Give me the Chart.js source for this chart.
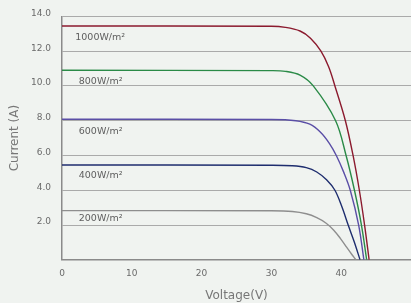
<!DOCTYPE html>
<html>
<head>
<meta charset="utf-8">
<script src="https://cdn.jsdelivr.net/npm/chart.js@4"></script>
<style>
  body { margin: 0; background: #f0f3f0; overflow: hidden; }
  #wrap { width: 411px; height: 303px; }
</style>
</head>
<body>
<div id="wrap"><canvas id="iv-chart"></canvas></div>
<script>
// I-V curves (V, A)
var v1000 = [0, 30, 32, 34.1, 35.6, 37.1, 38.2, 39.1, 40.6, 41.7, 42.6, 43.35, 44.0];
var i1000 = [13.45, 13.43, 13.37, 13.16, 12.75, 12.0, 11.1, 10.0, 8.0, 6.0, 4.0, 2.0, 0];
var v800 = [0, 30, 32, 34.1, 36.0, 39.2, 40.7, 41.9, 42.9, 43.65];
var i800 = [10.9, 10.88, 10.84, 10.62, 10.0, 8.0, 6.0, 4.0, 2.0, 0];
var v600 = [0, 30, 33.5, 35.5, 37.0, 38.3, 39.3, 40.4, 41.3, 42.5, 43.25];
var i600 = [8.08, 8.07, 8.0, 7.8, 7.35, 6.7, 6.0, 5.0, 4.0, 2.0, 0];
var v400 = [0, 30, 33, 35, 36.5, 37.9, 39.1, 40.1, 41.0, 41.9, 42.7];
var i400 = [5.45, 5.44, 5.41, 5.3, 5.05, 4.6, 4.0, 3.05, 2.0, 1.0, 0];
var v200 = [0, 30, 33, 35, 36.5, 37.8, 38.9, 39.9, 40.8, 41.5, 42.1];
var i200 = [2.83, 2.82, 2.78, 2.65, 2.43, 2.12, 1.72, 1.22, 0.71, 0.32, 0];

var seriesNames = ["1000W/m²", "800W/m²", "600W/m²", "400W/m²", "200W/m²"];
var seriesColors = ["#8b1a2e", "#2a8a47", "#5a4ea6", "#1e2d6e", "#8e8e8e"];
// where each irradiance label sits (V, A)
var labelX = [1.9, 2.4, 2.4, 2.4, 2.4];
var labelY = [12.8, 10.25, 7.4, 4.85, 2.35];

var yTicks = [0, 2, 4, 6, 8, 10, 12, 14];

function pts(vs, is) {
  return vs.map(function (v, k) { return { x: v, y: is[k] }; });
}
var curves = [pts(v1000, i1000), pts(v800, i800), pts(v600, i600), pts(v400, i400), pts(v200, i200)];

var curveLabels = {
  id: "curveLabels",
  afterDatasetsDraw: function (chart) {
    var ctx = chart.ctx;
    var xs = chart.scales.x, ys = chart.scales.y;
    ctx.save();
    ctx.font = "9.5px 'DejaVu Sans'";
    ctx.fillStyle = "#5e5e5e";
    ctx.textBaseline = "middle";
    ctx.textAlign = "left";
    seriesNames.forEach(function (name, k) {
      ctx.fillText(name, xs.getPixelForValue(labelX[k]), ys.getPixelForValue(labelY[k]));
    });
    ctx.restore();
  }
};

new Chart("iv-chart", {
  type: "line",
  data: {
    datasets: curves.map(function (d, k) {
      return {
        label: seriesNames[k],
        data: d,
        borderColor: seriesColors[k],
        borderWidth: 1.4,
        pointRadius: 0,
        tension: 0.35,
        fill: false
      };
    })
  },
  options: {
    responsive: true,
    maintainAspectRatio: false,
    animation: false,
    layout: { autoPadding: false, padding: { top: 8, right: 0, left: 8, bottom: 0 } },
    plugins: {
      legend: { display: false },
      tooltip: { enabled: false }
    },
    scales: {
      x: {
        type: "linear",
        min: 0,
        max: 50,
        grid: { display: false, drawTicks: false },
        border: { display: true, color: "#8a8a8a", width: 1.5 },
        ticks: {
          stepSize: 10,
          padding: 8,
          color: "#6a6a6a",
          font: { family: "'DejaVu Sans'", size: 9 },
          callback: function (v) { return v === 50 ? "" : v; }
        },
        title: {
          display: true,
          text: "Voltage(V)",
          color: "#777",
          font: { family: "'DejaVu Sans'", size: 12 },
          padding: { top: 2, bottom: 0 }
        },
        afterFit: function (s) { s.paddingLeft = 0; s.paddingRight = 0; }
      },
      y: {
        min: 0,
        max: 14,
        afterBuildTicks: function (axis) {
          axis.ticks = yTicks.map(function (v) { return { value: v }; });
        },
        grid: { color: "#aaaaaa", lineWidth: 1, drawTicks: false },
        border: { display: true, color: "#8a8a8a", width: 1.5 },
        ticks: {
          padding: 11,
          labelOffset: -3,
          color: "#6a6a6a",
          font: { family: "'DejaVu Sans'", size: 9 },
          callback: function (v) { return v === 0 ? "" : v.toFixed(1); }
        },
        title: {
          display: true,
          text: "Current (A)",
          color: "#777",
          font: { family: "'DejaVu Sans'", size: 12 },
          padding: { top: 0, bottom: 9 }
        },
        afterFit: function (s) { s.width = 54; }
      }
    }
  },
  plugins: [curveLabels]
});
</script>
</body>
</html>
